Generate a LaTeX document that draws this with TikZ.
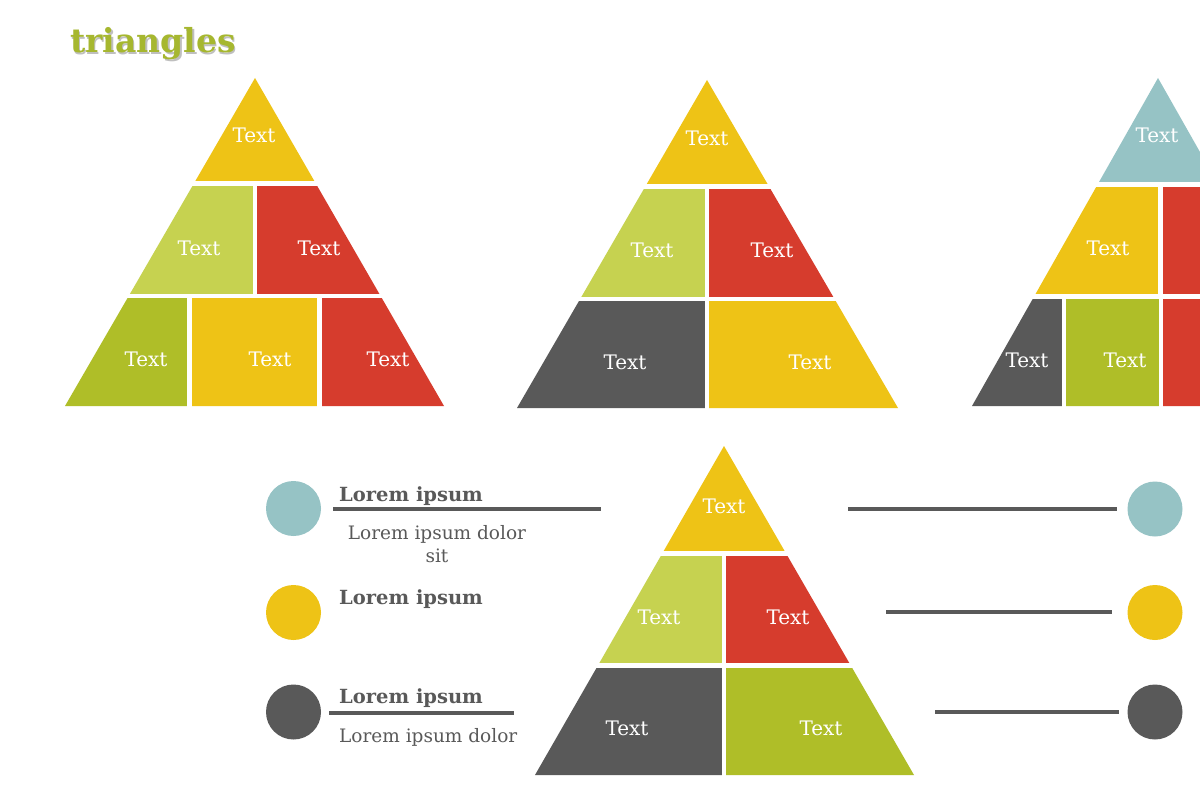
\documentclass[tikz,border=0pt]{standalone}
\usepackage{fontspec}
\setmainfont{DejaVu Serif}
\usepackage{xcolor}
\usepackage{tikz}

\definecolor{pyYellow}{HTML}{EEC316}
\definecolor{pyLime}{HTML}{C6D250}
\definecolor{pyRed}{HTML}{D63C2D}
\definecolor{pyOlive}{HTML}{AFBE28}
\definecolor{pyGray}{HTML}{595959}
\definecolor{pyTeal}{HTML}{96C3C5}
\definecolor{titleGreen}{HTML}{A6B72F}

\tikzset{
  lbl/.style={text=white, font=\fontsize{20}{23}\selectfont, inner sep=0pt},
  head/.style={text=pyGray, font=\bfseries\fontsize{19.5}{22}\selectfont, inner sep=0pt, anchor=base west},
  body/.style={text=pyGray, font=\fontsize{18.5}{23}\selectfont, inner sep=0pt},
  bar/.style={line width=4pt, pyGray},
  dot/.style={circle, minimum size=55pt, inner sep=0pt},
}

\begin{document}
\begin{tikzpicture}[x=1pt,y=-1pt]
	\clip (0,0) rectangle (1200,800);
	\fill[white] (0,0) rectangle (1200,800);
	
	% title with its shadow
	\node[anchor=base west, inner sep=0pt, text=black!25, font=\bfseries\fontsize{33}{38}\selectfont] at (71.5,54.5) {triangles};
	\node[anchor=base west, inner sep=0pt, text=titleGreen, font=\bfseries\fontsize{33}{38}\selectfont] (title) at (70,53) {triangles};
	
	% first pyramid
	\begin{scope}
		\clip (255,78) -- (65,406) -- (444,406) -- cycle;
		\fill[pyYellow] (60,70) rectangle (450,181);
		\fill[pyLime] (60,186) rectangle (253,294);
		\fill[pyRed] (257,186) rectangle (450,294);
		\fill[pyOlive] (60,298) rectangle (187,410);
		\fill[pyYellow] (192,298) rectangle (317,410);
		\fill[pyRed] (322,298) rectangle (450,410);
	\end{scope}
	\node[lbl] (p1top) at (254,135) {Text};
	\node[lbl] (p1ml) at (199,248) {Text};
	\node[lbl] (p1mr) at (319,248) {Text};
	\node[lbl] (p1bl) at (146,359) {Text};
	\node[lbl] (p1bm) at (270,359) {Text};
	\node[lbl] (p1br) at (388,359) {Text};
	
	% second pyramid
	\begin{scope}
		\clip (707,80) -- (517,408) -- (898,408) -- cycle;
		\fill[pyYellow] (510,70) rectangle (905,184);
		\fill[pyLime] (510,189) rectangle (705,297);
		\fill[pyRed] (709,189) rectangle (905,297);
		\fill[pyGray] (510,301) rectangle (705,412);
		\fill[pyYellow] (709,301) rectangle (905,412);
	\end{scope}
	\node[lbl] (p2top) at (707,138) {Text};
	\node[lbl] (p2ml) at (652,250) {Text};
	\node[lbl] (p2mr) at (772,250) {Text};
	\node[lbl] (p2bl) at (625,362) {Text};
	\node[lbl] (p2br) at (810,362) {Text};
	
	% third pyramid, cut by the edge
	\begin{scope}
		\clip (1158,78) -- (972,406) -- (1344,406) -- cycle;
		\fill[pyTeal] (960,70) rectangle (1210,182);
		\fill[pyYellow] (960,187) rectangle (1158,294);
		\fill[pyRed] (1163,187) rectangle (1210,294);
		\fill[pyGray] (960,299) rectangle (1062,410);
		\fill[pyOlive] (1066,299) rectangle (1159,410);
		\fill[pyRed] (1163,299) rectangle (1210,410);
	\end{scope}
	\node[lbl] (p3top) at (1157,135) {Text};
	\node[lbl] (p3ml) at (1108,248) {Text};
	\node[lbl] (p3bl) at (1027,360) {Text};
	\node[lbl] (p3bm) at (1125,360) {Text};
	
	% bottom pyramid
	\begin{scope}
		\clip (724,446) -- (535,775) -- (914,775) -- cycle;
		\fill[pyYellow] (530,440) rectangle (920,551);
		\fill[pyLime] (530,556) rectangle (722,663);
		\fill[pyRed] (726,556) rectangle (920,663);
		\fill[pyGray] (530,668) rectangle (722,780);
		\fill[pyOlive] (726,668) rectangle (920,780);
	\end{scope}
	\node[lbl] (p4top) at (724,506) {Text};
	\node[lbl] (p4ml) at (659,617) {Text};
	\node[lbl] (p4mr) at (788,617) {Text};
	\node[lbl] (p4bl) at (627,728) {Text};
	\node[lbl] (p4br) at (821,728) {Text};
	
	% left legend
	\node[dot, fill=pyTeal] (dotL1) at (293.5,508.5) {};
	\node[dot, fill=pyYellow] (dotL2) at (293.5,612.5) {};
	\node[dot, fill=pyGray] (dotL3) at (293.5,712) {};
	
	\node[head] (headL1) at (339,501) {Lorem ipsum};
	\draw[bar] (333,509) -- (601,509);
	\node[body, align=center, anchor=base] (bodyL1) at (437,562) {Lorem ipsum dolor\\sit};
	
	\node[head] (headL2) at (339,604) {Lorem ipsum};
	
	\node[head] (headL3) at (339,703) {Lorem ipsum};
	\draw[bar] (329,713) -- (514,713);
	\node[body, anchor=base west] (bodyL3) at (339,742) {Lorem ipsum dolor};
	
	% right legend
	\draw[bar] (848,509) -- (1117,509);
	\draw[bar] (886,612) -- (1112,612);
	\draw[bar] (935,712) -- (1119,712);
	\node[dot, fill=pyTeal] (dotR1) at (1155,509) {};
	\node[dot, fill=pyYellow] (dotR2) at (1155,612.5) {};
	\node[dot, fill=pyGray] (dotR3) at (1155,712) {};
\end{tikzpicture}
\end{document}
